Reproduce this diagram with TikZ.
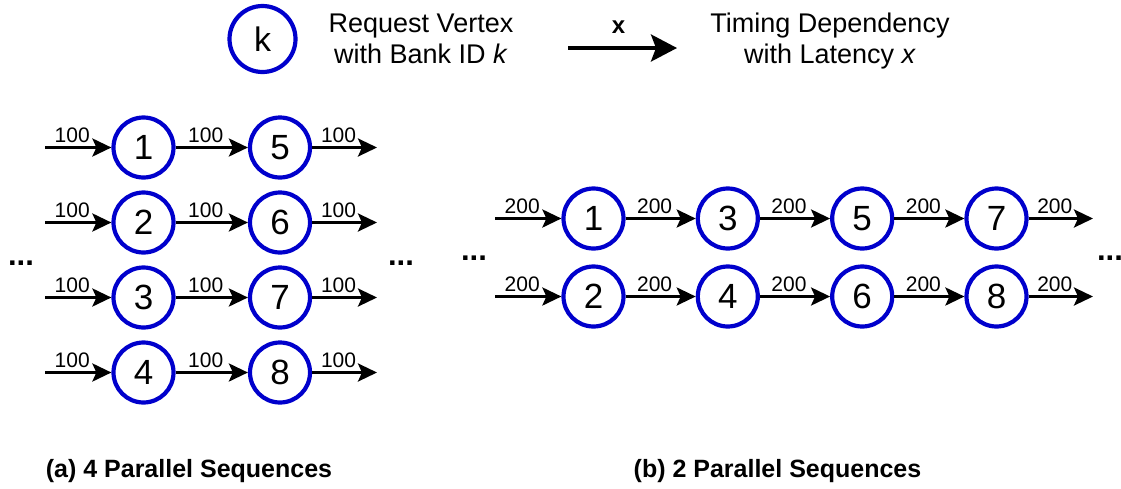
\documentclass[tikz,border=0pt]{standalone}
\usepackage{fontspec}
\setmainfont{Liberation Sans}
\usetikzlibrary{arrows.meta}
\definecolor{vblue}{RGB}{0,0,204}
\begin{document}
\begin{tikzpicture}[x=1pt,y=-1pt,
  vertex/.style={circle, draw=vblue, line width=4.2pt, minimum size=60pt, inner sep=0pt, font=\fontsize{35}{38}\selectfont},
  dep/.style={line width=3pt, -{Stealth[length=19pt,width=18pt,inset=4pt]}},
  lat/.style={font=\fontsize{21}{24}\selectfont, anchor=base, midway, yshift=5.5pt, xshift=-6pt, inner sep=0pt},
  txt/.style={font=\fontsize{27}{31}\selectfont, anchor=base, inner sep=0pt},
  captext/.style={font=\bfseries\fontsize{25}{30}\selectfont, anchor=base, inner sep=0pt},
  dotsty/.style={font=\bfseries\fontsize{31}{31}\selectfont, anchor=base, inner sep=0pt}]
\useasboundingbox (0,0) rectangle (1121,488);

% legend
\node[vertex, minimum size=66pt, font=\fontsize{34}{37}\selectfont] (legk) at (262.5,39) {k};
\node[txt] (legv1) at (421,32) {Request Vertex};
\node[txt] (legv2) at (421,63) {with Bank ID \textit{k}};
\coordinate (legs) at (568,48);
\coordinate (lege) at (677,48);
\draw[line width=3.5pt, -{Stealth[length=26pt,width=27pt,inset=5pt]}] (legs) -- node[font=\bfseries\fontsize{24}{28}\selectfont, anchor=base, midway, yshift=15pt, xshift=-4pt, inner sep=0pt] (legx) {x} (lege);
\node[txt] (legt1) at (830,32) {Timing Dependency};
\node[txt] (legt2) at (830,63) {with Latency \textit{x}};

% (a) 4 parallel sequences
\foreach \r/\p/\q/\y in {1/1/5/147.5, 2/2/6/222.5, 3/3/7/297.5, 4/4/8/372.5}{
  \node[vertex] (a\p) at (143.5,\y) {\p};
  \node[vertex] (a\q) at (280,\y) {\q};
  \coordinate (ain\r) at (45,\y);
  \coordinate (aout\r) at (377,\y);
  \draw[dep] (ain\r) -- node[lat] {100} (a\p);
  \draw[dep] (a\p) -- node[lat] {100} (a\q);
  \draw[dep] (a\q) -- node[lat] {100} (aout\r);
}
\node[dotsty] (adotl) at (21,265) {...};
\node[dotsty] (adotr) at (401,265) {...};

% (b) 2 parallel sequences
\foreach \r/\p/\q/\s/\t/\y in {1/1/3/5/7/218.5, 2/2/4/6/8/296.5}{
  \node[vertex] (b\p) at (593.5,\y) {\p};
  \node[vertex] (b\q) at (727.8,\y) {\q};
  \node[vertex] (b\s) at (862.2,\y) {\s};
  \node[vertex] (b\t) at (996.5,\y) {\t};
  \coordinate (bin\r) at (495,\y);
  \coordinate (bout\r) at (1093,\y);
  \draw[dep] (bin\r) -- node[lat] {200} (b\p);
  \draw[dep] (b\p) -- node[lat] {200} (b\q);
  \draw[dep] (b\q) -- node[lat] {200} (b\s);
  \draw[dep] (b\s) -- node[lat] {200} (b\t);
  \draw[dep] (b\t) -- node[lat] {200} (bout\r);
}
\node[dotsty] (bdotl) at (474,260) {...};
\node[dotsty] (bdotr) at (1110,260) {...};

% captions
\node[captext] (capa) at (189,477) {(a) 4 Parallel Sequences};
\node[captext] (capb) at (777.5,477) {(b) 2 Parallel Sequences};
\end{tikzpicture}
\end{document}
